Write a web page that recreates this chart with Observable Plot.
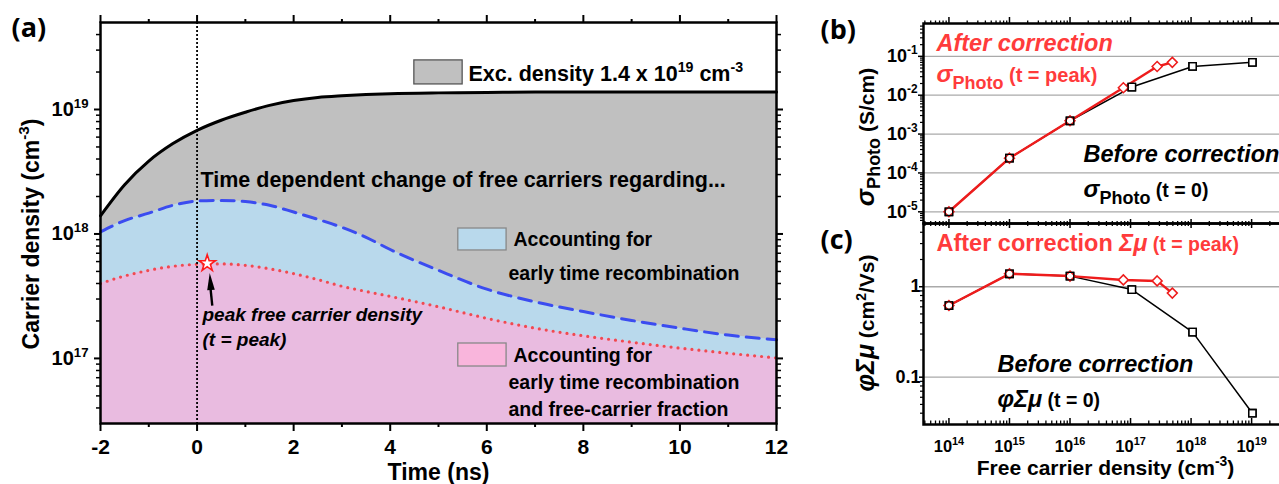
<!DOCTYPE html>
<html><head><meta charset="utf-8">
<script src="https://cdn.jsdelivr.net/npm/d3@7"></script>
<script src="https://cdn.jsdelivr.net/npm/@observablehq/plot@0.6"></script>
<style>
html,body{margin:0;padding:0;background:#fff;overflow:hidden;}
#root{position:relative;width:1279px;height:484px;overflow:hidden;background:#fff;}
#root svg{position:absolute;top:0;}
</style></head><body><div id="root"></div>
<script>
// ---------------- data: panel (a) ----------------
const timeNs = [-2,-1.5,-1,-0.5,0,0.5,1,1.5,2,2.5,3,3.5,4,5,6,7,8,9,10,11,12];
const excitationDensity = [1.4e18,2.49e18,3.85e18,5.32e18,6.8e18,8.2e18,9.5e18,1.08e19,1.18e19,1.25e19,1.29e19,1.32e19,1.34e19,1.36e19,1.37e19,1.38e19,1.38e19,1.38e19,1.38e19,1.38e19,1.38e19];
const earlyRecombDensity = [1.04e18,1.28e18,1.47e18,1.70e18,1.84e18,1.86e18,1.82e18,1.70e18,1.50e18,1.31e18,1.13e18,9.4e17,7.5e17,5.1e17,3.6e17,2.85e17,2.38e17,2.02e17,1.75e17,1.54e17,1.41e17];
const freeCarrierDensity = [4.0e17,4.6e17,5.1e17,5.5e17,5.7e17,5.75e17,5.6e17,5.25e17,4.8e17,4.3e17,3.8e17,3.45e17,3.15e17,2.6e17,2.1e17,1.75e17,1.52e17,1.35e17,1.21e17,1.1e17,1.01e17];
const peakTime = [0.21];
const peakDensity = [5.8e17];
const timeTicksMajor = [-2,0,2,4,6,8,10,12];
const timeTicksMinor = [-1,1,3,5,7,9,11];
const densityTicksMajor = [1e17,1e18,1e19];

// ---------------- data: panels (b), (c) ----------------
const carrierDensityBefore = [1e14,1e15,1e16,1.05e17,1.06e18,1.03e19];
const sigmaBefore = [1e-5,2.4e-4,2.2e-3,1.62e-2,5.5e-2,7.0e-2];
const mobilityBefore = [0.62,1.39,1.31,0.93,0.315,0.040];
const carrierDensityAfter = [1e14,1e15,1e16,7.6e16,2.75e17,4.9e17];
const sigmaAfter = [1e-5,2.4e-4,2.2e-3,1.56e-2,5.5e-2,7.0e-2];
const mobilityAfter = [0.62,1.39,1.31,1.19,1.16,0.85];
const freeDensityTicks = [1e14,1e15,1e16,1e17,1e18,1e19];
const sigmaTicks = [1e-5,1e-4,1e-3,1e-2,1e-1];
const mobilityTicks = [0.1,1];

// ---------------- helpers ----------------
const FONT = "'Liberation Sans', Arial, Helvetica, sans-serif";
const LABELFONT = "'Open Sans', 'Liberation Sans', sans-serif";
const RED_TXT = "#ff3b3b", RED = "#ee1c1c";
function minorLog(lo, hi, k0, k1) {
  const out = [];
  for (let k = k0; k <= k1; k++) for (let m = 2; m <= 9; m++) {
    const v = m * Math.pow(10, k);
    if (v > lo * 1.0001 && v < hi * 0.9999) out.push(v);
  }
  return out;
}
const pow10 = d => `10^{${Math.round(Math.log10(d))}}`;
function label(str, dx, dy, o = {}) {
  return Plot.text([str], {text: d => d, frameAnchor: "top-left", dx, dy, textAnchor: "start", lineAnchor: "bottom", ...o});
}
function yTitle(str, dx, dy, o = {}) {
  return Plot.text([str], {text: d => d, frameAnchor: "left", rotate: -90, dx, dy, textAnchor: "middle", lineAnchor: "bottom", ...o});
}
const RICH = new Map([
  ["σPhoto (t = peak)", [{t:"σ", size:24, italic:true}, {t:"Photo", size:18, shift:-6.5}, {t:" (t = peak)", size:20}]],
  ["σPhoto (t = 0)", [{t:"σ", size:24, italic:true}, {t:"Photo", size:18, shift:-6.5}, {t:" (t = 0)", size:19.5}]],
  ["After correction Σμ (t = peak)", [{t:"After correction ", size:23.5, upright:true}, {t:"Σμ", size:23.5, italic:true}, {t:" (t = peak)", size:19.5}]],
  ["φΣμ (t = 0)", [{t:"φΣμ", size:23.5, italic:true}, {t:" (t = 0)", size:19.5}]],
  ["σPhoto (S/cm)", [{t:"σ", size:26, italic:true}, {t:"Photo", size:18, shift:-6}, {t:" (S/cm)", size:21}]],
  ["φΣμ (cm2/Vs)", [{t:"φΣμ", size:25, italic:true}, {t:" (cm", size:21}, {t:"2", size:14, shift:8}, {t:"/Vs)", size:21}]]
]);
const SVGNS = "http://www.w3.org/2000/svg";
function richify(svg) {
  for (const t of svg.querySelectorAll("text")) {
    if (t.children.length) continue;
    const s = t.textContent;
    const base = parseFloat(getComputedStyle(t).fontSize) || 16;
    let segs = RICH.get(s);
    if (!segs) {
      if (!/[\^_]\{/.test(s)) continue;
      segs = []; let last = 0, m; const re = /([\^_])\{([^}]*)\}/g;
      while ((m = re.exec(s))) {
        if (m.index > last) segs.push({t: s.slice(last, m.index)});
        segs.push(m[1] === "^" ? {t: m[2], size: base * 0.66, shift: base * 0.42} : {t: m[2], size: base * 0.66, shift: -base * 0.25});
        last = re.lastIndex;
      }
      if (last < s.length) segs.push({t: s.slice(last)});
    }
    t.textContent = "";
    for (const g of segs) {
      const ts = document.createElementNS(SVGNS, "tspan");
      ts.textContent = g.t;
      if (g.size) ts.setAttribute("font-size", g.size + "px");
      if (g.italic) ts.setAttribute("font-style", "italic");
      if (g.upright) ts.setAttribute("font-style", "normal");
      if (g.shift) ts.setAttribute("baseline-shift", g.shift + "px");
      t.appendChild(ts);
    }
  }
}
const baseStyle = {fontFamily: FONT, fontWeight: "bold", fontSize: "20px", color: "black", background: "transparent", overflow: "visible"};

// ---------------- panel (a) ----------------
const rowsA = timeNs.map((t, i) => ({t, exc: excitationDensity[i], rec: earlyRecombDensity[i], free: freeCarrierDensity[i]}));
const peakRows = peakTime.map((t, i) => ({t, n: peakDensity[i]}));
const yMinA = 3e16, yMaxA = 5e19;
const densityTicksMinor = minorLog(yMinA, yMaxA, 16, 19);
const legendBoxes = [
  {t1: 4.50, t2: 5.50, n1: 1.59e19, n2: 2.48e19, fill: "#c0c0c0", stroke: "#555"},
  {t1: 5.41, t2: 6.41, n1: 7.37e17, n2: 1.106e18, fill: "#b9d9ec", stroke: "#888"},
  {t1: 5.41, t2: 6.41, n1: 8.61e16, n2: 1.318e17, fill: "#f9b5dc", stroke: "#888"}
];
const arrowShaft = [{t1: 0.315, n1: 2.66e17, t2: 0.28, n2: 3.6e17}];
const arrowTip = [{t: 0.262, n: 4.85e17}];
const headSymbol = {draw(ctx) { ctx.moveTo(0, 0); ctx.lineTo(3.8, 17); ctx.lineTo(-3.8, 17); ctx.closePath(); }};
const curve = "monotone-x";

const plotA = Plot.plot({
  width: 800, height: 484, marginLeft: 100, marginRight: 24, marginTop: 22, marginBottom: 61,
  style: baseStyle,
  x: {domain: [-2, 12], label: null},
  y: {type: "log", domain: [yMinA, yMaxA], label: null},
  marks: [
    Plot.areaY(rowsA, {x: "t", y1: yMinA, y2: "exc", fill: "#c0c0c0", curve}),
    Plot.areaY(rowsA, {x: "t", y1: yMinA, y2: "rec", fill: "#b9d9ec", curve}),
    Plot.areaY(rowsA, {x: "t", y1: yMinA, y2: "free", fill: "#e9bbe0", curve}),
    Plot.line(rowsA, {x: "t", y: "exc", stroke: "black", strokeWidth: 3, curve}),
    Plot.line(rowsA, {x: "t", y: "rec", stroke: "#3b4cf0", strokeWidth: 3, strokeDasharray: "13,8", curve}),
    Plot.line(rowsA, {x: "t", y: "free", stroke: "#f04a50", strokeWidth: 3.2, strokeDasharray: "0,7", strokeLinecap: "round", curve}),
    Plot.ruleX([0], {stroke: "black", strokeWidth: 1.8, strokeDasharray: "2,2"}),
    Plot.rect(legendBoxes, {x1: "t1", x2: "t2", y1: "n1", y2: "n2", fill: "fill", stroke: "stroke", strokeWidth: 1.3}),
    Plot.link(arrowShaft, {x1: "t1", y1: "n1", x2: "t2", y2: "n2", stroke: "black", strokeWidth: 2.4}),
    Plot.dot(arrowTip, {x: "t", y: "n", symbol: headSymbol, fill: "black", stroke: "none", rotate: -4.3}),
    Plot.dot(peakRows, {x: "t", y: "n", symbol: "star", r: 5.2, fill: "white", stroke: "#ff1a1a", strokeWidth: 1.6}),
    // axes
    Plot.axisX(timeTicksMajor, {anchor: "bottom", tickSize: 8, tickPadding: 8, fontSize: 21, strokeWidth: 2, tickFormat: d => String(d), label: null}),
    Plot.axisX(timeTicksMinor, {anchor: "bottom", tickSize: 4, strokeWidth: 2, fill: "none", label: null}),
    Plot.axisX(timeTicksMajor, {anchor: "top", tickSize: 8, strokeWidth: 2, fill: "none", label: null}),
    Plot.axisX(timeTicksMinor, {anchor: "top", tickSize: 4, strokeWidth: 2, fill: "none", label: null}),
    Plot.axisY(densityTicksMajor, {anchor: "left", tickSize: 6, tickPadding: 6, fontSize: 20, strokeWidth: 2, tickFormat: pow10, label: null}),
    Plot.axisY(densityTicksMinor, {anchor: "left", tickSize: 4, strokeWidth: 1.5, fill: "none", label: null}),
    Plot.axisY(densityTicksMajor, {anchor: "right", tickSize: 6, strokeWidth: 2, fill: "none", label: null}),
    Plot.axisY(densityTicksMinor, {anchor: "right", tickSize: 4, strokeWidth: 1.5, fill: "none", label: null}),
    Plot.frame({stroke: "black", strokeWidth: 2.5}),
    // texts
    label("(a)", -89, 6, {lineAnchor: "middle", fontFamily: LABELFONT, fontSize: 27}),
    label("Exc. density 1.4 x 10^{19} cm^{-3}", 368, 58, {fontSize: 21.5}),
    label("Time dependent change of free carriers regarding...", 100, 164.7, {fontSize: 21.5}),
    label("Accounting for", 413, 223.5, {fontSize: 19.5}),
    label("early time recombination", 408, 257.3, {fontSize: 19.5}),
    label("Accounting for", 413, 339.7, {fontSize: 19.5}),
    label("early time recombination", 408, 366.3, {fontSize: 19.5}),
    label("and free-carrier fraction", 408, 393, {fontSize: 19.5}),
    label("peak free carrier density", 102, 298.7, {fontSize: 19, fontStyle: "italic"}),
    label("(t = peak)", 102, 323, {fontSize: 19, fontStyle: "italic"}),
    Plot.text(["Time (ns)"], {text: d => d, frameAnchor: "bottom", textAnchor: "middle", dy: 56, lineAnchor: "bottom", fontSize: 23}),
    yTitle("Carrier density (cm^{-3})", -62, 11, {fontSize: 23})
  ]
});

// ---------------- panels (b), (c) ----------------
const before = carrierDensityBefore.map((n, i) => ({n, sigma: sigmaBefore[i], mu: mobilityBefore[i]}));
const after = carrierDensityAfter.map((n, i) => ({n, sigma: sigmaAfter[i], mu: mobilityAfter[i]}));
const xDomBC = [3.8e13, 3e19];
const freeDensityMinor = minorLog(xDomBC[0], xDomBC[1], 13, 19);
const yDomB = [5e-6, 0.7], yDomC = [0.03, 5];
const sigmaMinor = minorLog(yDomB[0], yDomB[1], -6, -1);
const mobilityMinor = minorLog(yDomC[0], yDomC[1], -2, 0);

function seriesMarks(key) {
  return [
    Plot.line(before, {x: "n", y: key, stroke: "black", strokeWidth: 1.5}),
    Plot.line(after, {x: "n", y: key, stroke: RED, strokeWidth: 2.5}),
    Plot.dot(before, {x: "n", y: key, symbol: d3.symbolSquare, r: 4.2, fill: "white", stroke: "black", strokeWidth: 1.3}),
    Plot.dot(after, {x: "n", y: key, symbol: d3.symbolDiamond2, r: 4.5, fill: "white", stroke: RED, strokeWidth: 1.5}),
    Plot.dot(before, {x: "n", y: key, symbol: d3.symbolSquare, r: 4.2, fill: "none", stroke: "black", strokeWidth: 1.3})
  ];
}

const plotB = Plot.plot({
  width: 480, height: 484, marginLeft: 113, marginRight: 10, marginTop: 23, marginBottom: 261,
  style: baseStyle,
  x: {type: "log", domain: xDomBC, label: null},
  y: {type: "log", domain: yDomB, label: null},
  marks: [
    Plot.gridY(sigmaTicks, {stroke: "#aaa", strokeOpacity: 1, strokeWidth: 1.3}),
    ...seriesMarks("sigma"),
    Plot.axisX(freeDensityTicks, {anchor: "top", tickSize: 7, strokeWidth: 1.5, fill: "none", label: null}),
    Plot.axisX(freeDensityMinor, {anchor: "top", tickSize: 3.5, strokeWidth: 1.3, fill: "none", label: null}),
    Plot.axisX(freeDensityTicks, {anchor: "bottom", tickSize: 5, strokeWidth: 1.5, fill: "none", label: null}),
    Plot.axisX(freeDensityMinor, {anchor: "bottom", tickSize: 3, strokeWidth: 1.3, fill: "none", label: null}),
    Plot.axisY(sigmaTicks, {anchor: "left", tickSize: 5, tickPadding: 1, fontSize: 18, strokeWidth: 1.5, tickFormat: pow10, label: null}),
    Plot.axisY(sigmaMinor, {anchor: "left", tickSize: 3, strokeWidth: 1.2, fill: "none", label: null}),
    Plot.frame({stroke: "black", strokeWidth: 2.5}),
    label("(b)", -103, 7, {lineAnchor: "middle", fontFamily: LABELFONT, fontSize: 27}),
    label("After correction", 13, 27, {fontSize: 23.5, fontStyle: "italic", fill: RED_TXT}),
    label("σPhoto (t = peak)", 13, 58.7, {fill: RED_TXT}),
    label("Before correction", 160, 138.7, {fontSize: 23.5, fontStyle: "italic"}),
    label("σPhoto (t = 0)", 160, 173),
    yTitle("σPhoto (S/cm)", -50, 13.5)
  ]
});

const plotC = Plot.plot({
  width: 480, height: 484, marginLeft: 113, marginRight: 10, marginTop: 223, marginBottom: 60,
  style: baseStyle,
  x: {type: "log", domain: xDomBC, label: null},
  y: {type: "log", domain: yDomC, label: null},
  marks: [
    Plot.gridY(mobilityTicks, {stroke: "#aaa", strokeOpacity: 1, strokeWidth: 1.3}),
    ...seriesMarks("mu"),
    Plot.axisX(freeDensityTicks, {anchor: "top", tickSize: 5, strokeWidth: 1.5, fill: "none", label: null}),
    Plot.axisX(freeDensityMinor, {anchor: "top", tickSize: 3, strokeWidth: 1.3, fill: "none", label: null}),
    Plot.tickX(freeDensityTicks, {x: d => d, insetTop: 195, stroke: "black", strokeWidth: 1.5}),
    Plot.tickX(freeDensityMinor, {x: d => d, insetTop: 197.5, stroke: "black", strokeWidth: 1.3}),
    Plot.axisX(freeDensityTicks, {anchor: "bottom", tickSize: 0, tickPadding: 16, fontSize: 16.5, tickFormat: pow10, label: null}),
    Plot.axisY(mobilityTicks, {anchor: "left", tickSize: 4, tickPadding: -1, fontSize: 18, strokeWidth: 1.5, tickFormat: d => (d === 1 ? "1" : "0.1"), label: null}),
    Plot.axisY(mobilityMinor, {anchor: "left", tickSize: 3, strokeWidth: 1.2, fill: "none", label: null}),
    Plot.frame({stroke: "black", strokeWidth: 2.5}),
    label("(c)", -103, 17, {lineAnchor: "middle", fontFamily: LABELFONT, fontSize: 27}),
    label("After correction Σμ (t = peak)", 13, 27, {fill: RED_TXT}),
    label("Before correction", 74, 148.7, {fontSize: 23.5, fontStyle: "italic"}),
    label("φΣμ (t = 0)", 74, 183.7),
    yTitle("φΣμ (cm2/Vs)", -50, -1),
    Plot.text(["Free carrier density (cm^{-3})"], {text: d => d, frameAnchor: "bottom", textAnchor: "middle", dx: 3.5, dy: 50, lineAnchor: "bottom", fontSize: 21})
  ]
});

const root = document.getElementById("root");
plotA.style.left = "0px";
plotB.style.left = "810px";
plotC.style.left = "810px";
for (const p of [plotA, plotB, plotC]) { p.style.maxWidth = "none"; root.appendChild(p); richify(p); }
</script>
</body></html>
